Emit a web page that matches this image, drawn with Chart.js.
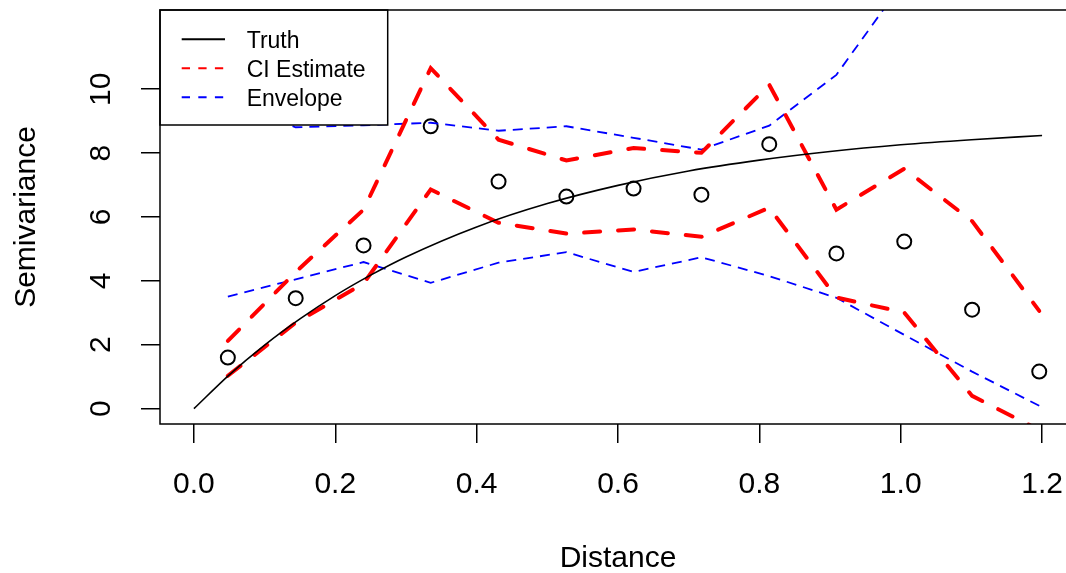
<!DOCTYPE html>
<html>
<head>
<meta charset="utf-8">
<script src="https://cdn.jsdelivr.net/npm/chart.js@4/dist/chart.umd.min.js"></script>
<style>
  html, body { margin: 0; padding: 0; background: #fff; overflow: hidden; }
  canvas { display: block; }
</style>
</head>
<body>
<canvas id="myChart" width="1100" height="573"></canvas>
<script>
// truth curve
const truthX = [0, 0.05, 0.1, 0.15, 0.2, 0.25, 0.3, 0.4, 0.5, 0.6, 0.7, 0.8, 0.9, 1.0, 1.1, 1.2];
const truthY = [0, 1.06, 1.99, 2.81, 3.54, 4.18, 4.75, 5.69, 6.42, 6.99, 7.44, 7.78, 8.05, 8.26, 8.42, 8.55];

// bin centres and the values at each bin
const binX = [0.048, 0.144, 0.240, 0.335, 0.431, 0.527, 0.622, 0.718, 0.814, 0.909, 1.005, 1.101, 1.196];
const semivar = [1.60, 3.46, 5.11, 8.84, 7.11, 6.64, 6.89, 6.70, 8.28, 4.86, 5.23, 3.10, 1.16];
const ciUpper = [2.12, 4.28, 6.23, 10.66, 8.42, 7.77, 8.16, 8.01, 10.14, 6.23, 7.51, 5.87, 3.06];
const ciLower = [1.03, 2.69, 3.92, 6.86, 5.82, 5.48, 5.61, 5.38, 6.29, 3.48, 3.01, 0.40, -0.67];
const envUpper = [9.5, 8.81, 8.87, 8.95, 8.70, 8.84, 8.48, 8.11, 8.86, 10.45, 13.4, 15.5, 17.0];
const envLower = [3.51, 4.05, 4.59, 3.94, 4.57, 4.90, 4.28, 4.74, 4.15, 3.47, 2.31, 1.16, 0.09];

const xTicks = [0, 0.2, 0.4, 0.6, 0.8, 1.0, 1.2];
const xTickLabels = ['0.0', '0.2', '0.4', '0.6', '0.8', '1.0', '1.2'];
const yTicks = [0, 2, 4, 6, 8, 10];
const yTickLabels = ['0', '2', '4', '6', '8', '10'];

const legendNames = ['Truth', 'CI Estimate', 'Envelope'];

const FONT = '"Liberation Sans", Arial, Helvetica, sans-serif';

const pts = (xs, ys) => xs.map((x, i) => ({ x: x, y: ys[i] }));

// R style box, axis text and legend
const rDecor = {
  id: 'rDecor',
  afterDraw(chart) {
    const ctx = chart.ctx;
    const a = chart.chartArea;
    const xs = chart.scales.x;
    const ys = chart.scales.y;
    ctx.save();

    // legend box
    const lx = a.left, ly = a.top, lw = 227.7, lh = 115;
    ctx.fillStyle = '#fff';
    ctx.fillRect(lx, ly, lw, lh);
    ctx.strokeStyle = '#000';
    ctx.lineWidth = 1.5;
    ctx.strokeRect(lx, ly, lw, lh);

    const rows = [39.3, 68.3, 97.3];
    const styles = [
      { c: '#000', d: [] },
      { c: '#ff0000', d: [8.3, 8.3] },
      { c: '#0000ff', d: [8.3, 8.3] }
    ];
    rows.forEach((ry, i) => {
      ctx.beginPath();
      ctx.setLineDash(styles[i].d);
      ctx.strokeStyle = styles[i].c;
      ctx.lineWidth = 2;
      ctx.moveTo(181.7, ry);
      ctx.lineTo(225, ry);
      ctx.stroke();
    });
    ctx.setLineDash([]);
    ctx.fillStyle = '#000';
    ctx.font = '23px ' + FONT;
    ctx.textAlign = 'left';
    ctx.textBaseline = 'alphabetic';
    legendNames.forEach((n, i) => ctx.fillText(n, 246.7, rows[i] + 8.2));

    // plot box
    ctx.strokeStyle = '#000';
    ctx.lineWidth = 1.5;
    ctx.strokeRect(a.left, a.top, a.right - a.left, a.bottom - a.top);

    // tick labels
    ctx.font = '30px ' + FONT;
    ctx.textAlign = 'center';
    xTicks.forEach((v, i) => {
      ctx.fillText(xTickLabels[i], xs.getPixelForValue(v), 492.5);
    });
    yTicks.forEach((v, i) => {
      ctx.save();
      ctx.translate(109.7, ys.getPixelForValue(v));
      ctx.rotate(-Math.PI / 2);
      ctx.fillText(yTickLabels[i], 0, 0);
      ctx.restore();
    });

    // axis titles
    ctx.fillText('Distance', (a.left + a.right) / 2, 567.4);
    ctx.save();
    ctx.translate(35, (a.top + a.bottom) / 2);
    ctx.rotate(-Math.PI / 2);
    ctx.fillText('Semivariance', 0, 0);
    ctx.restore();

    ctx.restore();
  }
};

var ctx = document.getElementById('myChart').getContext('2d');

new Chart(ctx, {
  type: 'scatter',
  data: {
    datasets: [
      {
        label: 'Truth',
        data: pts(truthX, truthY),
        showLine: true,
        borderColor: '#000',
        borderWidth: 1.6,
        pointRadius: 0,
        cubicInterpolationMode: 'monotone',
      },
      {
        label: 'CI Estimate',
        data: pts(binX, ciUpper),
        showLine: true,
        borderColor: '#ff0000',
        borderWidth: 4,
        borderDash: [16, 18],
        borderCapStyle: 'round',
        pointRadius: 0,
      },
      {
        label: 'CI Estimate lower',
        data: pts(binX, ciLower),
        showLine: true,
        borderColor: '#ff0000',
        borderWidth: 4,
        borderDash: [16, 18],
        borderCapStyle: 'round',
        pointRadius: 0,
      },
      {
        label: 'Envelope',
        data: pts(binX, envUpper),
        showLine: true,
        borderColor: '#0000ff',
        borderWidth: 1.8,
        borderDash: [10, 7],
        pointRadius: 0,
      },
      {
        label: 'Envelope lower',
        data: pts(binX, envLower),
        showLine: true,
        borderColor: '#0000ff',
        borderWidth: 1.8,
        borderDash: [10, 7],
        pointRadius: 0,
      },
      {
        label: 'Semivariance',
        data: pts(binX, semivar),
        showLine: false,
        pointRadius: 7,
        pointBorderWidth: 2,
        pointBorderColor: '#000',
        pointBackgroundColor: 'rgba(0,0,0,0)',
      },
    ],
  },
  options: {
    responsive: false,
    animation: false,
    layout: { padding: { top: 10, right: 24, left: 0, bottom: 0 } },
    plugins: {
      legend: { display: false },
      tooltip: { enabled: false },
    },
    scales: {
      x: {
        type: 'linear',
        min: -0.048,
        max: 1.248,
        afterBuildTicks: (s) => { s.ticks = xTicks.map(v => ({ value: v })); },
        afterFit: (s) => { s.height = 149; },
        ticks: { display: false },
        border: { display: false },
        grid: { drawOnChartArea: false, drawTicks: true, tickLength: 19, color: '#000', lineWidth: 1.5 },
      },
      y: {
        type: 'linear',
        min: -0.48,
        max: 12.48,
        afterBuildTicks: (s) => { s.ticks = yTicks.map(v => ({ value: v })); },
        afterFit: (s) => { s.width = 160; },
        ticks: { display: false },
        border: { display: false },
        grid: { drawOnChartArea: false, drawTicks: true, tickLength: 19, color: '#000', lineWidth: 1.5 },
      },
    },
  },
  plugins: [rDecor],
});
</script>
</body>
</html>
